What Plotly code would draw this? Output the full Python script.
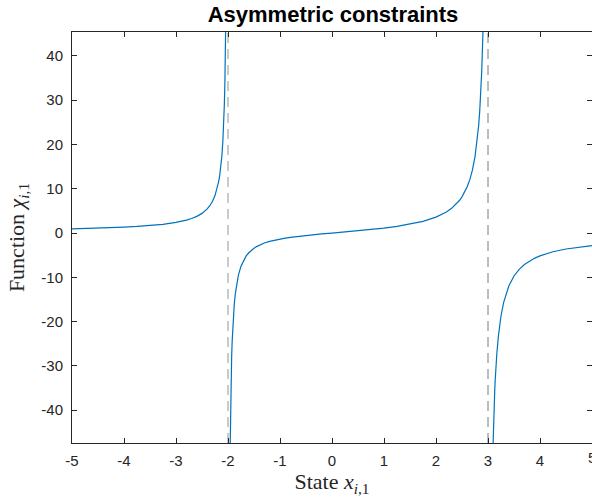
import plotly.graph_objects as go

# Left branch (x < -2)
x_left = [-5, -4.75, -4.5, -4.25, -4, -3.75, -3.5, -3.25, -3, -2.9, -2.8, -2.7,
          -2.6, -2.5, -2.45, -2.4, -2.35, -2.3, -2.25, -2.2, -2.18, -2.16, -2.14,
          -2.12, -2.1, -2.09, -2.08, -2.07, -2.06, -2.05, -2.045, -2.04]
y_left = [0.952, 1.024, 1.108, 1.209, 1.333, 1.491, 1.697, 1.981, 2.4, 2.630, 2.917,
          3.283, 3.768, 4.444, 4.894, 5.455, 6.174, 7.132, 8.471, 10.476, 11.590,
          12.981, 14.769, 17.152, 20.488, 22.711, 25.490, 29.063, 33.826, 40.494,
          44.939, 50.495]

# Middle branch (-2 < x < 3)
x_mid = [-1.96, -1.955, -1.95, -1.94, -1.93, -1.92, -1.91, -1.9, -1.88, -1.86,
         -1.84, -1.82, -1.8, -1.75, -1.7, -1.65, -1.6, -1.55, -1.5, -1.45, -1.4,
         -1.3, -1.2, -1.1, -1.0, -0.9, -0.8, -0.6, -0.4, -0.2, 0, 0.25, 0.5, 0.75,
         1.0, 1.25, 1.5, 1.75, 2.0, 2.1, 2.2, 2.3, 2.4, 2.45, 2.5, 2.55, 2.6, 2.65,
         2.7, 2.75, 2.8, 2.82, 2.84, 2.86, 2.88, 2.9, 2.92]
y_mid = [-49.495, -43.94, -39.494, -32.826, -28.062, -24.490, -21.711, -19.487,
         -16.151, -13.768, -11.979, -10.588, -9.474, -7.467, -6.126, -5.166, -4.444,
         -3.881, -3.429, -3.057, -2.745, -2.251, -1.875, -1.577, -1.333, -1.129,
         -0.952, -0.659, -0.417, -0.202, 0, 0.252, 0.514, 0.8, 1.125, 1.513, 2.0,
         2.653, 3.6, 4.118, 4.760, 5.580, 6.667, 7.356, 8.182, 9.189, 10.446, 12.061,
         14.211, 17.217, 21.724, 24.227, 27.354, 31.375, 36.735, 44.237, 55.49]

# Right branch (x > 3)
x_right = [3.09, 3.095, 3.1, 3.11, 3.12, 3.13, 3.14, 3.15, 3.17, 3.2, 3.25, 3.3,
           3.35, 3.4, 3.5, 3.6, 3.7, 3.8, 3.9, 4.0, 4.25, 4.5, 4.75, 5.0]
y_right = [-50.739, -48.11, -45.738, -41.646, -38.235, -35.349, -32.876, -30.732,
           -27.200, -23.226, -18.72, -15.714, -13.566, -11.953, -9.692, -8.182,
           -7.100, -6.287, -5.652, -5.143, -4.221, -3.6, -3.152, -2.8125]

# Constraint bounds
lower_bound = -2
upper_bound = 3

x_range = [-5, 5]
y_range = [-47.4, 45.4]
x_ticks = [-5, -4, -3, -2, -1, 0, 1, 2, 3, 4, 5]
y_ticks = [-40, -30, -20, -10, 0, 10, 20, 30, 40]

curve_color = "#0072BD"
axis_color = "#262626"

fig = go.Figure()

fig.add_trace(go.Scatter(x=[lower_bound, lower_bound], y=y_range, mode="lines",
                         line=dict(color="#bdbdbd", width=1.6, dash="10px,6px"),
                         showlegend=False, hoverinfo="skip"))
fig.add_trace(go.Scatter(x=[upper_bound, upper_bound], y=y_range, mode="lines",
                         line=dict(color="#7a7a7a", width=1, dash="10px,6px"),
                         showlegend=False, hoverinfo="skip"))

for xs, ys in [(x_left, y_left), (x_mid, y_mid), (x_right, y_right)]:
    fig.add_trace(go.Scatter(x=xs, y=ys, mode="lines",
                             line=dict(color=curve_color, width=1.2),
                             showlegend=False))

tick_font = dict(family="Liberation Sans, Arial, sans-serif", size=15, color=axis_color)
label_font = dict(family="Liberation Serif, Times New Roman, serif", size=22, color=axis_color)

fig.update_layout(
    width=592, height=501,
    margin=dict(l=72, r=0, t=32, b=58),
    paper_bgcolor="white", plot_bgcolor="white",
    title=dict(text="<b>Asymmetric constraints</b>",
               font=dict(family="Liberation Sans, Arial, sans-serif", size=22, color="black"),
               x=0.5625, xanchor="center", xref="container",
               y=1 - 14 / 501, yanchor="middle", yref="container"),
)

# Tick labels drawn through the axis; the last one sits on the figure edge,
# so it is placed as an annotation that may run past the border
x_tick_labels = [str(v) for v in x_ticks]
fig.update_xaxes(
    range=x_range, tickvals=x_ticks[:-1], ticktext=x_tick_labels[:-1],
    ticks="inside", ticklen=5, tickcolor=axis_color, tickwidth=1,
    showline=True, linecolor=axis_color, linewidth=1, mirror="ticks",
    showgrid=False, zeroline=False, tickfont=tick_font, ticklabelstandoff=4,
    title=dict(text="State <i>x</i><sub><i>i</i>,1</sub>", font=label_font, standoff=4),
)
fig.add_annotation(x=x_ticks[-1], y=0, xref="x", yref="paper", yshift=-4,
                   text=x_tick_labels[-1], showarrow=False, font=tick_font,
                   xanchor="center", yanchor="top")

fig.update_yaxes(
    range=y_range, tickvals=y_ticks, ticktext=[str(v) for v in y_ticks],
    ticks="inside", ticklen=5, tickcolor=axis_color, tickwidth=1,
    showline=True, linecolor=axis_color, linewidth=1, mirror="ticks",
    showgrid=False, zeroline=False, tickfont=tick_font, ticklabelstandoff=5,
    title=dict(text="Function <i>χ</i><sub><i>i</i>,1</sub>", font=label_font, standoff=10),
)

fig.write_html("out.html")
